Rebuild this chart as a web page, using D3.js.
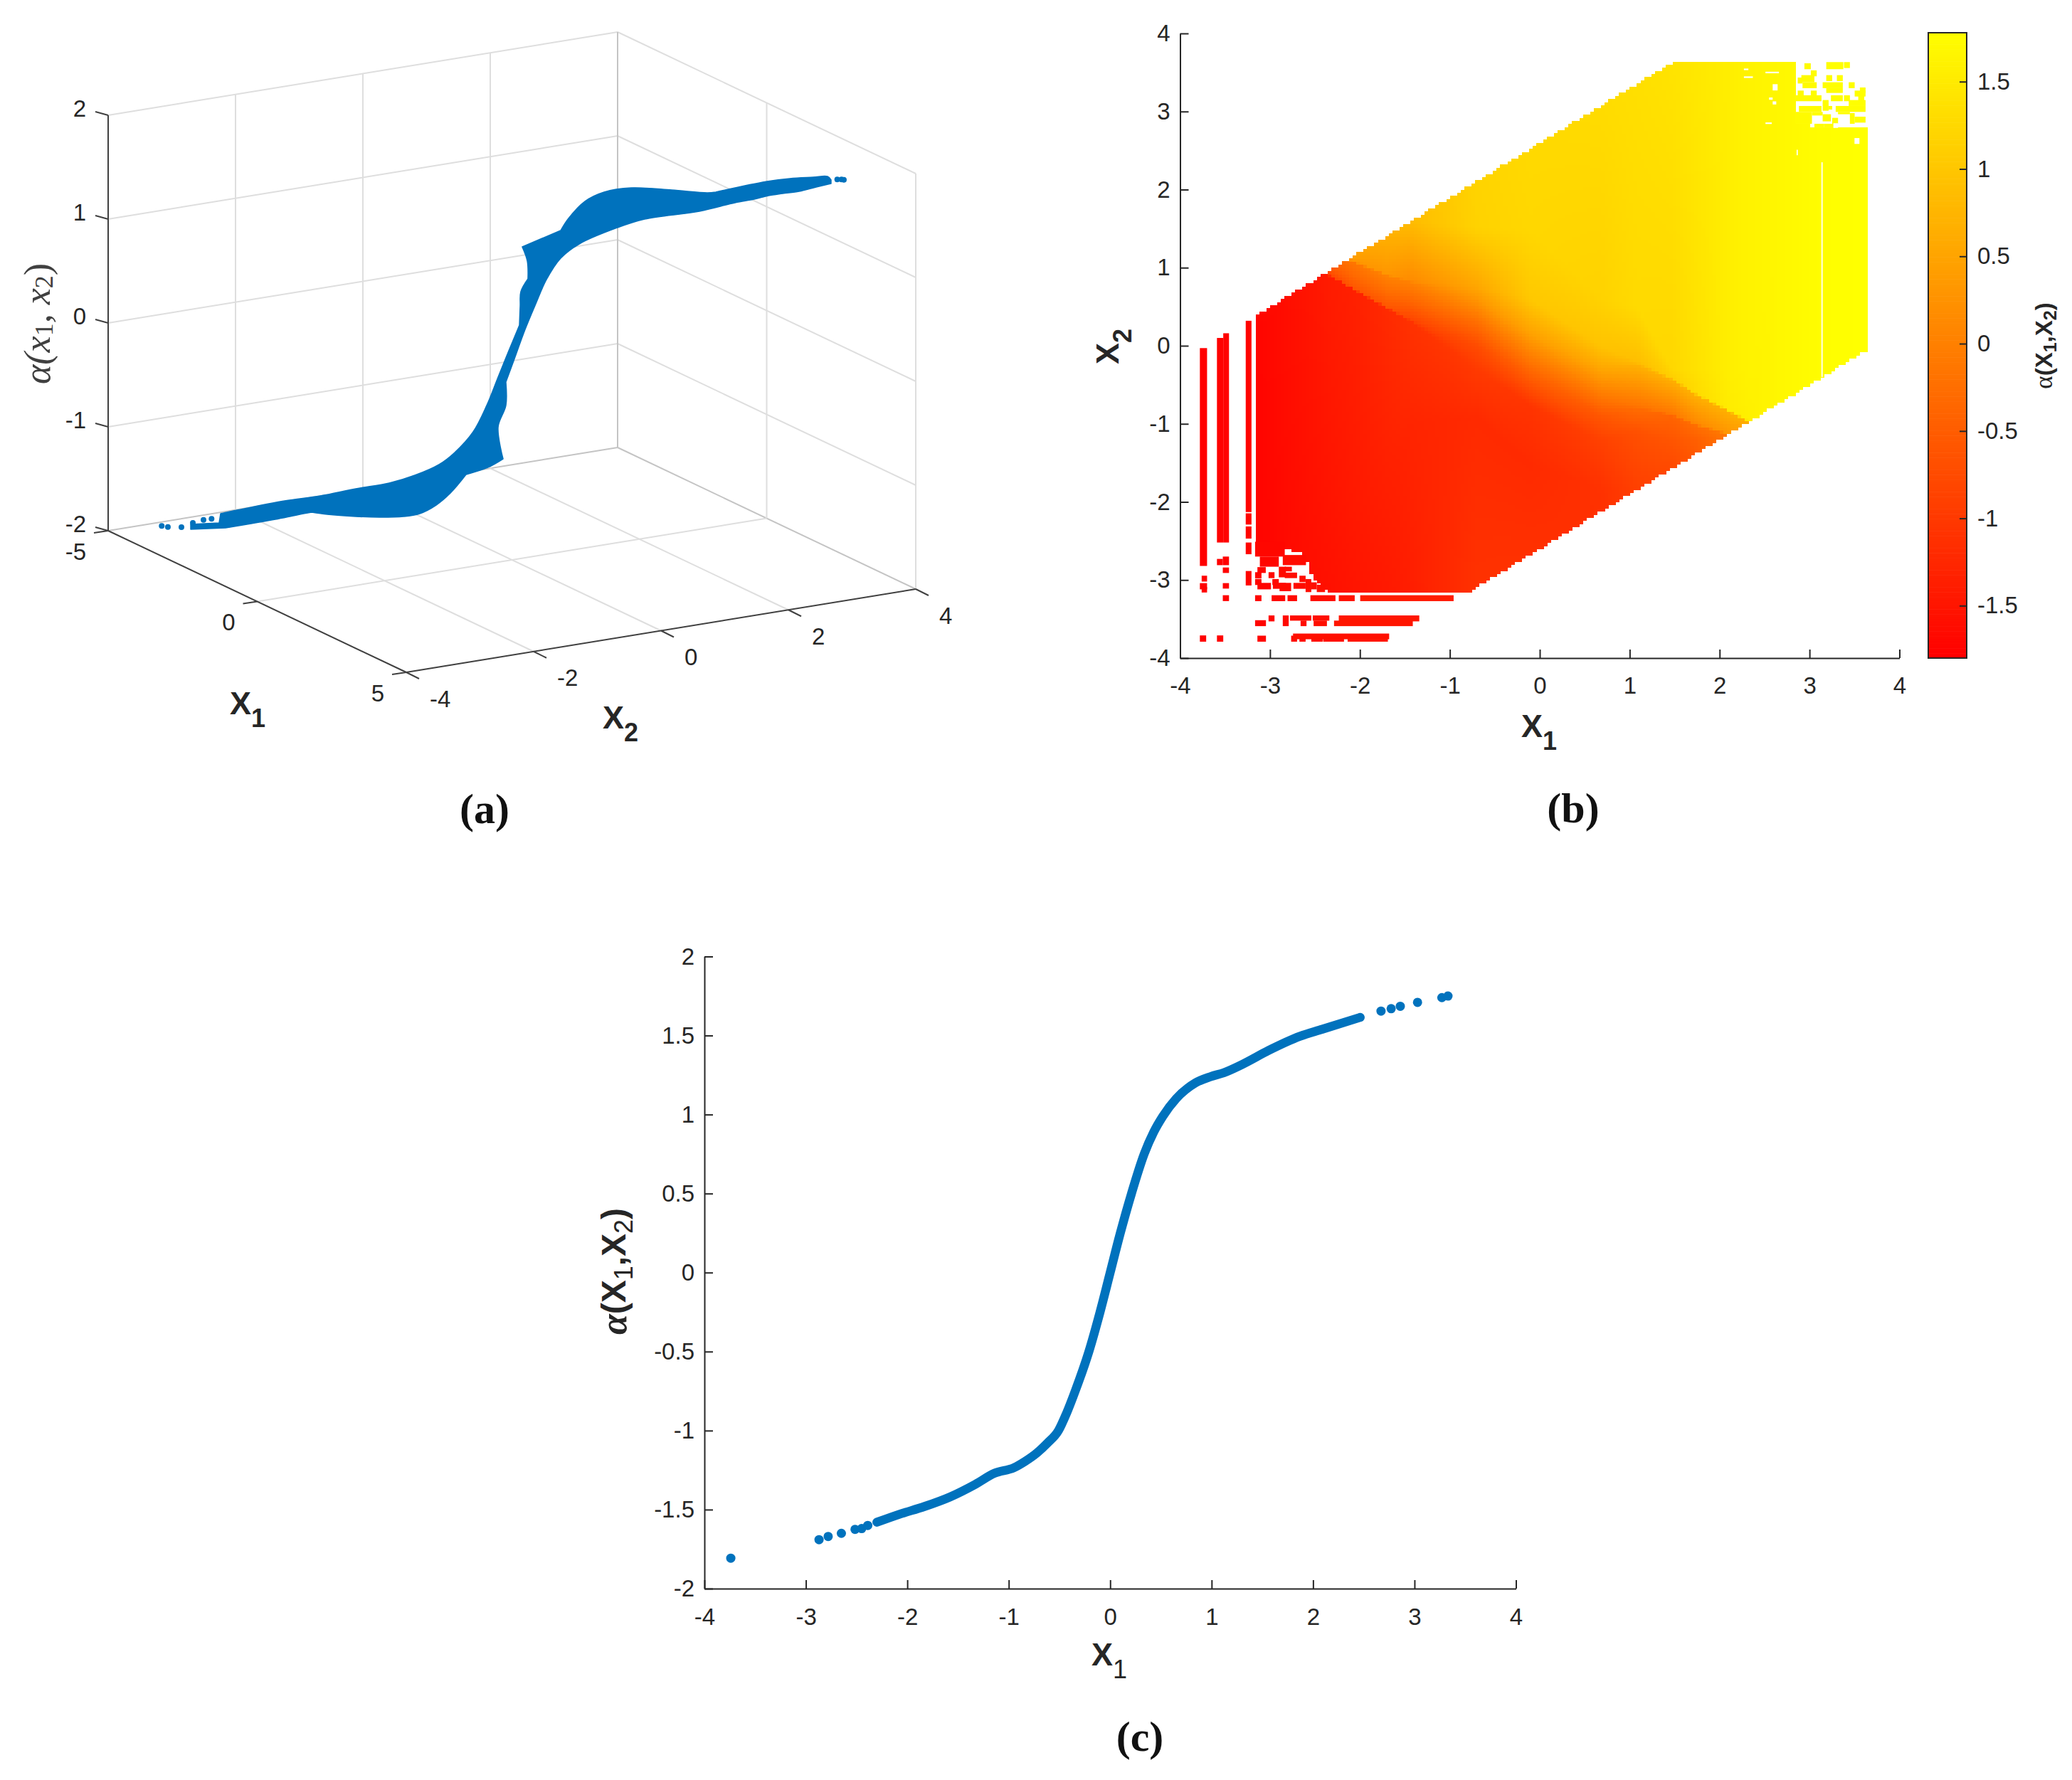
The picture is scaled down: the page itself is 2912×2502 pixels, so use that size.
<!DOCTYPE html>
<html>
<head>
<meta charset="utf-8">
<script src="https://cdn.jsdelivr.net/npm/d3@7"></script>
<style>
  html, body { margin: 0; padding: 0; background: #fff; }
  svg { display: block; }
  text { font-family: "Liberation Sans", sans-serif; fill: #262626; }
  .tick text { font-size: 33px; }
  .axis path, .axis line { stroke: #262626; stroke-width: 2; }
</style>
</head>
<body>
<svg id="fig" width="2912" height="2502"></svg>
<script>
// ---- panel (a): outline of the surface, read along the plane x1 = x2
var upperEdgeX = [-3.436,-3.132,-3.116,-2.941,-2.432,-2.051,-1.670,-1.313,-1.039,-0.780,-0.620,-0.415,-0.270,-0.148,-0.034,0.080,0.088,0.095,0.171,0.164,0.110,0.521,0.605,0.780,0.986,1.275,1.709,2.089,2.180,2.728,2.972,3.223,3.375,3.413];
var upperEdgeAlpha = [-1.782,-1.757,-1.667,-1.627,-1.519,-1.458,-1.375,-1.308,-1.223,-1.110,-0.995,-0.782,-0.523,-0.245,0.012,0.263,0.449,0.586,0.712,0.883,1.018,1.190,1.310,1.480,1.577,1.628,1.623,1.610,1.620,1.742,1.779,1.801,1.814,1.781];
var lowerEdgeX = [3.413,3.253,3.071,2.896,2.744,2.591,2.386,2.005,1.419,1.130,0.719,0.521,0.369,0.255,0.141,0.019,-0.065,-0.065,-0.148,-0.095,-0.255,-0.491,-0.658,-0.811,-0.986,-1.161,-1.419,-1.670,-1.975,-2.142,-2.302,-2.530,-2.789,-3.063,-3.436];
var lowerEdgeAlpha = [1.747,1.707,1.659,1.632,1.606,1.566,1.525,1.429,1.332,1.240,1.067,0.923,0.712,0.475,0.224,-0.082,-0.290,-0.516,-0.725,-1.031,-1.118,-1.196,-1.380,-1.502,-1.590,-1.624,-1.640,-1.642,-1.633,-1.618,-1.651,-1.701,-1.751,-1.803,-1.829];
// where the outline has a real corner (index into upper + lower edge)
var bandCorners = [0,1,2,15,18,20,21,28,33,34,50,53,55,63,67];
var tipX = [-3.746,-3.680,-3.535,-3.413,-3.299,-3.213,3.479,3.525,3.550];
var tipAlpha = [-1.809,-1.816,-1.812,-1.767,-1.734,-1.721,1.788,1.790,1.788];
var x1Ticks3d = [-5,0,5];
var x2Ticks3d = [-4,-2,0,2,4];
var zTicks3d = [-2,-1,0,1,2];

// ---- panel (b): alpha read down columns of x1, stops follow the two kink lines
var fieldX1 = [-3.8,-3.2,-2.6,-2.33,-2.06,-1.7,-1.43,-0.7,-0.11,0.68,1.08,1.47,1.74,2.08,2.32,2.36,2.6,3.1,3.6];
var fieldX2 = [
  [-3.8,-2,0,0.2,0.5,0.8,1,1.5,3.8],
  [-3.8,-2,0,0.2,0.5,0.8,1,1.5,3.8],
  [-3.8,-2,1.06,1.07,1.15,1.3,1.31,1.5,3.8],
  [-3.8,-2,0.89,0.90,1.0,1.19,1.2,1.3,3.8],
  [-3.8,-2,0.72,0.73,0.9,1.07,1.08,1.15,3.8],
  [-3.8,-2,0.48,0.50,0.7,0.90,0.92,1.4,3.8],
  [-3.8,-1,0.31,0.33,0.6,0.81,0.83,1.6,3.8],
  [-3.8,-0.91,-0.30,0,0.30,0.61,0.75,1.52,3.8],
  [-3.8,-1.52,-0.76,-0.30,0,0.154,0.61,1.5,3.8],
  [-3.8,-1.82,-1.21,-0.91,-0.61,-0.30,0,0.61,3.8],
  [-3.8,-1.9,-1.1,-0.80,-0.78,-0.25,-0.2,0.5,3.8],
  [-3.8,-1.49,-1.21,-0.89,-0.87,-0.43,-0.41,-0.30,3.8],
  [-3.8,-1.38,-1.2,-1.02,-1.0,-0.63,-0.61,-0.3,3.8],
  [-3.8,-1.2,-1.15,-1.13,-1.11,-0.83,-0.81,-0.3,3.8],
  [-3.8,-1.2,-1.1,-1.05,-1.0,-0.97,-0.95,-0.3,3.8],
  [-3.8,-1.2,-1.1,-1.05,-1.0,-0.97,-0.95,-0.3,3.8],
  [-3.8,-2,-1.5,-1,-0.5,0,0.5,1,3.8],
  [-3.8,-2,-1.5,-1,-0.5,0,0.5,1,3.8],
  [-3.8,-2,-1.5,-1,-0.5,0,0.5,1,3.8]
];
var fieldAlpha = [
  [-1.8,-1.8,-1.8,-1.8,-1.8,-1.8,-1.8,-1.8,-1.8],
  [-1.76,-1.76,-1.76,-1.76,-1.76,-1.76,-1.76,-1.76,-1.76],
  [-1.63,-1.59,-1.52,-1.45,-1.38,-1.24,-1.10,-0.96,-0.96],
  [-1.60,-1.52,-1.41,-0.82,-0.54,-0.26,0.03,0.31,0.45],
  [-1.55,-1.45,-1.35,-0.61,-0.33,-0.14,0.28,0.45,0.52],
  [-1.49,-1.38,-1.21,-0.61,-0.26,0.03,0.31,0.66,0.73],
  [-1.41,-1.29,-1.10,-0.85,-0.33,0,0.14,0.84,0.94],
  [-1.07,-1.21,-0.99,-0.75,-0.26,0.31,0.52,1.15,1.22],
  [-1.03,-1.21,-1.07,-0.33,0.17,0.45,1.01,1.22,1.29],
  [-1.17,-1.10,-0.89,-0.61,-0.05,0.52,0.94,1.15,1.32],
  [-1.03,-0.93,-0.68,-0.28,-0.19,0.66,0.87,1.26,1.34],
  [-0.75,-0.75,-0.61,-0.40,-0.12,0.66,1.08,1.22,1.40],
  [-0.54,-0.54,-0.47,-0.26,0.10,0.66,1.26,1.36,1.46],
  [-0.12,-0.12,-0.12,-0.09,0.31,0.66,1.50,1.54,1.54],
  [0.52,0.52,0.52,0.52,0.59,0.66,1.57,1.61,1.61],
  [1.58,1.58,1.58,1.58,1.58,1.58,1.58,1.61,1.61],
  [1.65,1.65,1.65,1.65,1.65,1.65,1.65,1.65,1.65],
  [1.75,1.75,1.75,1.75,1.75,1.75,1.75,1.75,1.75],
  [1.78,1.78,1.78,1.78,1.78,1.78,1.78,1.78,1.78]
];
// filled part of the (x1,x2) plane
var supportX1 = [-3.166,1.48,2.83,2.83,2.843,3.13,3.62,3.62,-0.80,-2.36,-2.36,-2.52,-2.56,-2.60,-2.836,-2.99,-3.166];
var supportX2 = [0.38,3.63,3.63,3.21,2.843,2.80,2.80,-0.06,-3.155,-3.155,-3.12,-2.98,-2.83,-2.68,-2.60,-2.51,-2.51];
// isolated cells outside that region: x1 from, x1 to, x2 from, x2 to
var loneCells = [
  [-3.78,-3.70,-2.82,-0.03],[-3.76,-3.70,-3.02,-2.945],[-3.78,-3.70,-3.12,-3.04],[-3.76,-3.70,-3.16,-3.09],[-3.78,-3.71,-3.79,-3.71],
  [-3.59,-3.52,-2.52,0.10],[-3.52,-3.456,-2.52,0.16],[-3.525,-3.456,-2.81,-2.70],[-3.59,-3.525,-2.81,-2.73],[-3.525,-3.456,-2.91,-2.84],[-3.525,-3.456,-3.11,-3.04],[-3.525,-3.456,-3.27,-3.195],[-3.59,-3.52,-3.79,-3.71],
  [-3.27,-3.206,-2.13,0.32],[-3.27,-3.206,-2.29,-2.146],[-3.27,-3.206,-2.47,-2.314],[-3.27,-3.206,-2.67,-2.52],[-3.27,-3.206,-3.07,-2.885],
  [-3.166,-2.836,-2.70,-2.51],[-3.113,-2.902,-2.83,-2.70],[-2.858,-2.60,-2.81,-2.68],[-3.14,-3.047,-2.91,-2.835],[-3.166,-3.095,-2.98,-2.90],[-3.016,-2.95,-2.976,-2.90],[-2.902,-2.823,-2.966,-2.83],[-2.836,-2.757,-2.89,-2.83],[-2.836,-2.699,-2.976,-2.905],[-2.673,-2.604,-3.027,-2.945],
  [-3.166,-3.095,-3.064,-2.988],[-3.14,-2.989,-3.12,-3.037],[-2.974,-2.902,-3.064,-2.988],[-2.968,-2.823,-3.113,-3.037],[-2.894,-2.765,-3.143,-3.037],[-2.739,-2.604,-3.113,-3.037],[-2.604,-2.541,-3.155,-2.988],[-2.546,-2.48,-3.12,-3.03],[-2.48,-2.388,-3.155,-3.06],
  [-3.166,-3.095,-3.271,-3.195],[-2.982,-2.831,-3.271,-3.195],[-2.805,-2.699,-3.271,-3.195],[-2.551,-2.272,-3.271,-3.195],[-2.235,-2.058,-3.271,-3.195],[-1.997,-0.958,-3.271,-3.195],
  [-3.016,-2.95,-3.53,-3.454],[-2.858,-2.792,-3.591,-3.454],[-2.778,-2.541,-3.521,-3.454],[-2.66,-2.594,-3.591,-3.52],[-2.525,-2.34,-3.521,-3.454],[-2.515,-2.367,-3.591,-3.52],[-2.235,-1.34,-3.53,-3.454],[-2.288,-1.412,-3.591,-3.52],[-3.166,-3.045,-3.591,-3.515],
  [-2.765,-2.699,-3.79,-3.713],[-2.744,-1.675,-3.759,-3.686],[-2.673,-2.604,-3.79,-3.75],[-2.541,-2.414,-3.79,-3.75],[-2.409,-2.177,-3.79,-3.75],[-2.137,-1.689,-3.79,-3.75],[-3.14,-3.045,-3.79,-3.713],
  [2.943,3.014,3.542,3.618],[3.186,3.376,3.542,3.633],[3.383,3.449,3.557,3.633],[3.014,3.08,3.451,3.527],[2.909,3.054,3.375,3.466],[2.869,2.922,3.359,3.435],[2.922,3.08,3.299,3.375],[3.186,3.252,3.39,3.466],[3.304,3.37,3.39,3.466],[3.146,3.37,3.299,3.375],[3.186,3.37,3.238,3.299],[3.436,3.502,3.299,3.375],[3.56,3.623,3.238,3.308],[3.502,3.623,3.192,3.268],
  [2.869,2.935,3.177,3.268],[3.014,3.08,3.177,3.268],[2.843,3.133,3.132,3.208],[3.238,3.37,3.132,3.208],[3.383,3.449,3.132,3.208],[3.542,3.608,3.132,3.208],[3.146,3.212,3.01,3.147],[3.436,3.623,3.071,3.147],[2.882,3.133,2.995,3.071],[3.212,3.252,3.025,3.071],[3.291,3.623,2.995,3.071],[2.843,3.027,2.843,2.995],[3.027,3.146,2.949,2.995],[3.146,3.238,2.874,2.965],[3.252,3.317,2.843,2.919],[3.317,3.449,2.965,2.995],[3.449,3.502,2.843,2.98],[3.502,3.623,2.858,2.934],[3.054,3.159,2.798,2.843],[3.159,3.291,2.798,2.843]
];
// missing cells inside the filled part
var gapCells = [
  [2.27,2.37,3.43,3.45],[2.27,2.32,3.53,3.55],[2.51,2.66,3.49,3.51],[2.59,2.645,3.27,3.35],[2.55,2.59,3.15,3.18],[2.59,2.63,3.09,3.13],[2.51,2.58,2.84,2.86],[2.856,2.87,2.44,2.51],[3.265,3.317,2.79,2.85],[3.50,3.555,2.585,2.66],
  [3.132,3.146,-0.40,2.35]
];
var ticksB = [-4,-3,-2,-1,0,1,2,3,4];
var colorTicks = [-1.5,-1,-0.5,0,0.5,1,1.5];

// ---- panel (c): the curve, and the points that stand apart at both ends
var curveX = [-2.30,-2.08,-1.83,-1.58,-1.33,-1.14,-0.95,-0.84,-0.72,-0.62,-0.51,-0.43,-0.345,-0.21,-0.10,0,0.10,0.21,0.335,0.43,0.52,0.65,0.84,0.99,1.12,1.31,1.56,1.87,2.09,2.465];
var curveY = [-1.58,-1.53,-1.48,-1.42,-1.34,-1.27,-1.235,-1.195,-1.14,-1.08,-1.0,-0.89,-0.75,-0.5,-0.25,0,0.25,0.5,0.75,0.89,0.99,1.10,1.20,1.24,1.265,1.32,1.405,1.495,1.54,1.615];
var looseX = [-3.74,-2.87,-2.78,-2.65,-2.515,-2.45,-2.39,2.67,2.77,2.86,3.03,3.27,3.33];
var looseY = [-1.807,-1.69,-1.67,-1.65,-1.625,-1.62,-1.60,1.655,1.67,1.685,1.71,1.74,1.75];
var xTicksC = [-4,-3,-2,-1,0,1,2,3,4];
var yTicksC = [-2,-1.5,-1,-0.5,0,0.5,1,1.5,2];

var blue = '#0072bd';
var svg = d3.select('#fig');

// writes a line of text out of parts, sub: true drops a part to subscript
function richText(parent, x, y, parts, rotate) {
  var t = parent.append('text')
    .attr('text-anchor', 'middle')
    .attr('dominant-baseline', 'central')
    .attr('transform', 'translate(' + x + ',' + y + ')' + (rotate ? ' rotate(' + rotate + ')' : ''));
  var wasSub = false;
  parts.forEach(function (p) {
    var span = t.append('tspan').text(p.text)
      .attr('font-size', p.size)
      .attr('font-weight', p.weight || 'normal')
      .attr('font-style', p.style || 'normal')
      .attr('font-family', p.family || '"Liberation Sans", sans-serif');
    if (p.fill) { span.style('fill', p.fill); }
    if (p.sub && !wasSub) { span.attr('dy', p.drop); }
    if (!p.sub && wasSub) { span.attr('dy', -p.drop); }
    wasSub = !!p.sub;
  });
  return t;
}

function x1x2Label(parent, x, y, sym, sub, size, rotate, subWeight) {
  return richText(parent, x, y, [
    { text: sym, size: size, weight: 'bold' },
    { text: sub, size: size * 0.8, weight: subWeight || 'bold', sub: true, drop: size * 0.47 }
  ], rotate);
}

function panelTag(x, y, letter) {
  svg.append('text')
    .attr('x', x).attr('y', y)
    .attr('text-anchor', 'middle')
    .attr('dominant-baseline', 'central')
    .attr('font-size', 60)
    .attr('font-weight', 'bold')
    .style('font-family', '"Liberation Serif", serif')
    .style('fill', '#111')
    .text('(' + letter + ')');
}

// ======== panel (a) ========
(function () {
  var g = svg.append('g');
  var sx1 = d3.scaleLinear().domain([-5, 5]).range([0, 1]);
  var sx2 = d3.scaleLinear().domain([-4, 4]).range([0, 1]);
  var sz = d3.scaleLinear().domain([-2, 2]).range([0, 1]);

  function project(x1, x2, z) {
    var a = sx1(x1), b = sx2(x2), c = sz(z);
    return [152 + a * 419 + b * 716, 746 + a * 199 - b * 117 - c * 584];
  }
  function seg(p, q, color, w) {
    g.append('line')
      .attr('x1', p[0]).attr('y1', p[1]).attr('x2', q[0]).attr('y2', q[1])
      .attr('stroke', color).attr('stroke-width', w);
  }
  var grid = '#dedede', edge = '#c4c4c4', dark = '#404040';

  // back walls and floor
  zTicks3d.forEach(function (z) {
    seg(project(-5, -4, z), project(-5, 4, z), z === -2 ? edge : grid, 2);
    seg(project(-5, 4, z), project(5, 4, z), z === -2 ? edge : grid, 2);
  });
  x2Ticks3d.slice(1, -1).forEach(function (v) {
    seg(project(-5, v, -2), project(-5, v, 2), grid, 2);
    seg(project(-5, v, -2), project(5, v, -2), grid, 2);
  });
  seg(project(0, -4, -2), project(0, 4, -2), grid, 2);
  seg(project(0, 4, -2), project(0, 4, 2), grid, 2);
  seg(project(5, 4, -2), project(5, 4, 2), grid, 2);
  seg(project(-5, 4, -2), project(-5, 4, 2), edge, 2);

  // surface outline, smooth between its corners
  var outline = upperEdgeX.map(function (v, i) { return project(v, v, upperEdgeAlpha[i]); })
    .concat(lowerEdgeX.map(function (v, i) { return project(v, v, lowerEdgeAlpha[i]); }));
  var piece = d3.line().curve(d3.curveCatmullRom.alpha(0.5));
  var bandPath = '';
  bandCorners.forEach(function (c, k) {
    var end = k < bandCorners.length - 1 ? bandCorners[k + 1] : outline.length - 1;
    var d = piece(outline.slice(c, end + 1));
    bandPath += k === 0 ? d : d.replace(/^M[^CL]*/, '');
  });
  g.append('path')
    .attr('d', bandPath + 'Z')
    .attr('fill', blue)
    .attr('stroke', blue)
    .attr('stroke-width', 1.5)
    .attr('stroke-linejoin', 'round');
  g.selectAll('.tip').data(tipX).enter().append('circle')
    .attr('class', 'tip')
    .attr('cx', function (d) { return project(d, d, 0)[0]; })
    .attr('cy', function (d, i) { return project(d, d, tipAlpha[i])[1]; })
    .attr('r', 4)
    .attr('fill', blue);

  // the three drawn axes with their ticks
  seg(project(-5, -4, -2), project(-5, -4, 2), dark, 2);
  seg(project(-5, -4, -2), project(5, -4, -2), dark, 2);
  seg(project(5, -4, -2), project(5, 4, -2), dark, 2);

  function tickText(p, dx, dy, anchor, value) {
    g.append('text')
      .attr('x', p[0] + dx).attr('y', p[1] + dy)
      .attr('text-anchor', anchor)
      .attr('dominant-baseline', 'central')
      .attr('font-size', 33)
      .text(value);
  }
  zTicks3d.forEach(function (z) {
    var p = project(-5, -4, z);
    seg(p, [p[0] - 18, p[1] - 5], dark, 2);
    tickText(p, -31, -10, 'end', z);
  });
  x1Ticks3d.forEach(function (v) {
    var p = project(v, -4, -2);
    seg(p, [p[0] - 20, p[1] + 3], dark, 2);
    tickText(p, -31, 29, 'end', v);
  });
  x2Ticks3d.forEach(function (v) {
    var p = project(5, v, -2);
    seg(p, [p[0] + 18, p[1] + 9], dark, 2);
    tickText(p, 33, 37, 'start', v);
  });

  x1x2Label(g, 348, 988, 'X', '1', 45);
  x1x2Label(g, 872, 1008, 'X', '2', 45);
  richText(g, 52, 455, [
    { text: 'α(x', size: 52, style: 'italic', family: '"Liberation Serif", serif', fill: '#404040' },
    { text: '1', size: 36, sub: true, drop: 10, family: '"Liberation Serif", serif', fill: '#404040' },
    { text: ', x', size: 52, style: 'italic', family: '"Liberation Serif", serif', fill: '#404040', drop: 10 },
    { text: '2', size: 36, sub: true, drop: 10, family: '"Liberation Serif", serif', fill: '#404040' },
    { text: ')', size: 52, family: '"Liberation Serif", serif', fill: '#404040', drop: 10 }
  ], -90);
})();

// ======== panel (b) ========
(function () {
  var g = svg.append('g');
  var x = d3.scaleLinear().domain([-4, 4]).range([1658.5, 2669.5]);
  var y = d3.scaleLinear().domain([-4, 4]).range([925, 47]);
  var color = d3.scaleLinear().domain([-1.8, 1.78]).range(['#ff0000', '#ffff00']);
  var colIndex = d3.scaleLinear().domain(fieldX1).range(d3.range(fieldX1.length)).clamp(true);

  // alpha at a place in the plane, stops of neighbouring columns are blended
  function alphaAt(a, b) {
    var pos = colIndex(a);
    var i = Math.min(Math.floor(pos), fieldX1.length - 2);
    var t = pos - i;
    var dom = fieldX2[i].map(function (p, j) { return p + (fieldX2[i + 1][j] - p) * t; });
    var ran = fieldAlpha[i].map(function (p, j) { return p + (fieldAlpha[i + 1][j] - p) * t; });
    return d3.scaleLinear().domain(dom).range(ran).clamp(true)(b);
  }

  var step = 0.04;
  var poly = supportX1.map(function (v, i) { return [v, supportX2[i]]; });
  var cells = [];
  d3.range(-3.2, 3.64, step).forEach(function (a) {
    d3.range(-3.2, 3.64, step).forEach(function (b) {
      if (d3.polygonContains(poly, [a + step / 2, b + step / 2])) {
        cells.push({ a: a, b: b, v: alphaAt(a + step / 2, b + step / 2) });
      }
    });
  });

  g.append('g').attr('shape-rendering', 'crispEdges')
    .selectAll('rect').data(cells).enter().append('rect')
    .attr('x', function (d) { return x(d.a); })
    .attr('y', function (d) { return y(d.b + step); })
    .attr('width', x(step) - x(0) + 0.6)
    .attr('height', y(0) - y(step) + 0.6)
    .attr('fill', function (d) { return color(d.v); });

  g.append('g').selectAll('rect').data(loneCells).enter().append('rect')
    .attr('x', function (d) { return x(d[0]); })
    .attr('y', function (d) { return y(d[3]); })
    .attr('width', function (d) { return x(d[1]) - x(d[0]); })
    .attr('height', function (d) { return y(d[2]) - y(d[3]); })
    .attr('fill', function (d) { return color(alphaAt((d[0] + d[1]) / 2, (d[2] + d[3]) / 2)); });

  g.append('g').selectAll('rect').data(gapCells).enter().append('rect')
    .attr('x', function (d) { return x(d[0]); })
    .attr('y', function (d) { return y(d[3]); })
    .attr('width', function (d) { return x(d[1]) - x(d[0]); })
    .attr('height', function (d) { return y(d[2]) - y(d[3]); })
    .attr('fill', '#fff');

  g.append('g').attr('class', 'axis')
    .attr('transform', 'translate(0,' + y(-4) + ')')
    .call(d3.axisBottom(x).tickValues(ticksB).tickFormat(String).tickSizeInner(-12).tickSizeOuter(0).tickPadding(27));
  g.append('g').attr('class', 'axis')
    .attr('transform', 'translate(' + x(-4) + ',0)')
    .call(d3.axisLeft(y).tickValues(ticksB).tickFormat(String).tickSizeInner(-12).tickSizeOuter(0).tickPadding(14));

  x1x2Label(g, 2163, 1020, 'X', '1', 45);
  x1x2Label(g, 1556, 487, 'X', '2', 45, -90);

  // colorbar
  var cy = d3.scaleLinear().domain([-1.8, 1.78]).range([925, 46]);
  var cb = g.append('g');
  cb.selectAll('rect').data(d3.range(-1.8, 1.78, 0.014)).enter().append('rect')
    .attr('x', 2710)
    .attr('y', function (d) { return cy(d + 0.014); })
    .attr('width', 54)
    .attr('height', cy(0) - cy(0.014) + 0.6)
    .attr('fill', function (d) { return color(d); });
  cb.append('rect')
    .attr('x', 2710).attr('y', 46).attr('width', 54).attr('height', 879)
    .attr('fill', 'none').attr('stroke', '#262626').attr('stroke-width', 2);
  g.append('g').attr('class', 'axis')
    .attr('transform', 'translate(2764,0)')
    .call(d3.axisRight(cy).tickValues(colorTicks).tickFormat(String).tickSizeInner(-10).tickSizeOuter(0).tickPadding(15))
    .select('.domain').remove();

  richText(g, 2872, 486, [
    { text: 'α', size: 35, family: '"Liberation Serif", serif' },
    { text: '(X', size: 33, weight: 'bold' },
    { text: '1', size: 25, weight: 'bold', sub: true, drop: 9 },
    { text: ',X', size: 33, weight: 'bold', drop: 9 },
    { text: '2', size: 25, weight: 'bold', sub: true, drop: 9 },
    { text: ')', size: 33, weight: 'bold', drop: 9 }
  ], -90);
})();

// ======== panel (c) ========
(function () {
  var g = svg.append('g');
  var x = d3.scaleLinear().domain([-4, 4]).range([990, 2130.5]);
  var y = d3.scaleLinear().domain([-2, 2]).range([2233, 1344.5]);

  g.append('path')
    .datum(curveX.map(function (v, i) { return [v, curveY[i]]; }))
    .attr('fill', 'none')
    .attr('stroke', blue)
    .attr('stroke-width', 12.5)
    .attr('stroke-linecap', 'round')
    .attr('d', d3.line()
      .x(function (d) { return x(d[0]); })
      .y(function (d) { return y(d[1]); })
      .curve(d3.curveMonotoneX));

  g.selectAll('circle').data(looseX).enter().append('circle')
    .attr('cx', function (d) { return x(d); })
    .attr('cy', function (d, i) { return y(looseY[i]); })
    .attr('r', 6.5)
    .attr('fill', blue);

  g.append('g').attr('class', 'axis')
    .attr('transform', 'translate(0,' + y(-2) + ')')
    .call(d3.axisBottom(x).tickValues(xTicksC).tickFormat(String).tickSizeInner(-12).tickSizeOuter(0).tickPadding(28));
  g.append('g').attr('class', 'axis')
    .attr('transform', 'translate(' + x(-4) + ',0)')
    .call(d3.axisLeft(y).tickValues(yTicksC).tickFormat(String).tickSizeInner(-12).tickSizeOuter(0).tickPadding(14));

  x1x2Label(g, 1559, 2325, 'X', '1', 45, 0, 'normal');
  richText(g, 862, 1787, [
    { text: 'α', size: 52, weight: 'bold', style: 'italic', family: '"Liberation Serif", serif' },
    { text: '(X', size: 48, weight: 'bold' },
    { text: '1', size: 36, sub: true, drop: 14 },
    { text: ',X', size: 48, weight: 'bold', drop: 14 },
    { text: '2', size: 36, sub: true, drop: 14 },
    { text: ')', size: 48, weight: 'bold', drop: 14 }
  ], -90);
})();

panelTag(681, 1137, 'a');
panelTag(2211, 1136, 'b');
panelTag(1602, 2441, 'c');
</script>
</body>
</html>
